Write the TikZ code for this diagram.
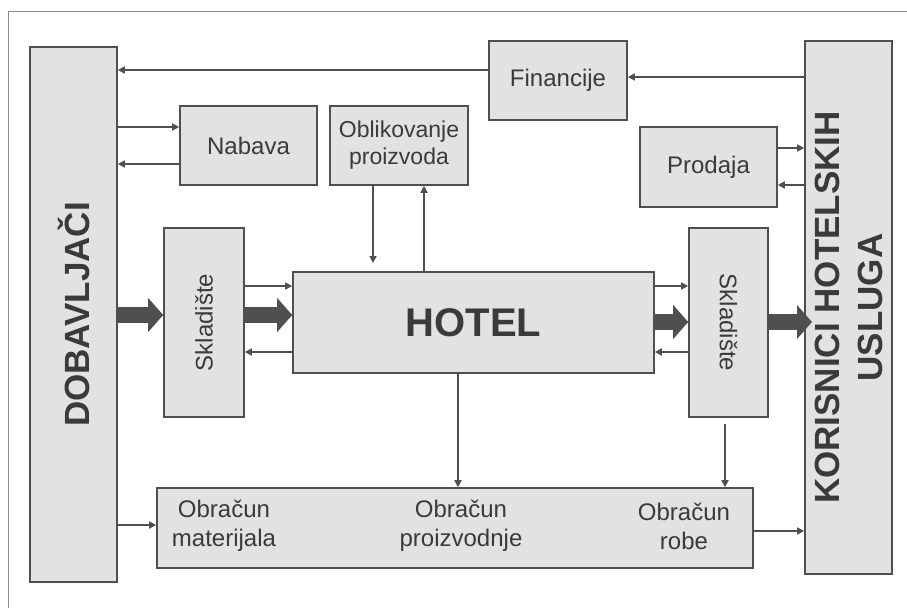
\documentclass[tikz,border=0pt]{standalone}
\usepackage{fontspec}
\setmainfont{Liberation Sans}
\usetikzlibrary{arrows.meta}
\definecolor{boxfill}{HTML}{E2E2E2}
\definecolor{edge}{HTML}{4F4F4F}
\definecolor{ink}{HTML}{3A3A3A}
\definecolor{frame}{HTML}{8A8A8A}
\begin{document}
\begin{tikzpicture}[x=1pt,y=-1pt,
  box/.style={draw=edge,line width=1.6pt,fill=boxfill,inner sep=0pt},
  lbl/.style={text=ink,font=\fontsize{24}{29}\selectfont,align=center},
  big/.style={text=ink,font=\fontsize{35}{43}\selectfont\bfseries,align=center},
  arr/.style={draw=edge,line width=1.6pt,-{Triangle[length=7pt,width=7pt]}},
  fat/.style={draw=edge,line width=16pt,-{Triangle[length=15pt,width=34pt,line width=0pt]}}]
\useasboundingbox (0,0) rectangle (907,608);
\draw[frame,line width=1pt] (907,11) -- (8,11) -- (8,608);

% boxes
\node[box,minimum width=87pt,minimum height=535pt] (dob) at (73.5,314.5) {};
\node[box,minimum width=87pt,minimum height=533pt] (kor) at (848.5,307.5) {};
\node[box,minimum width=138pt,minimum height=79pt] (fin) at (558,80.5) {};
\node[box,minimum width=137pt,minimum height=79pt] (nab) at (248.5,145.5) {};
\node[box,minimum width=138pt,minimum height=79pt] (obl) at (399,145.5) {};
\node[box,minimum width=137pt,minimum height=80pt] (pro) at (708.5,167) {};
\node[box,minimum width=80pt,minimum height=189pt] (sk1) at (204,322.5) {};
\node[box,minimum width=361pt,minimum height=101pt] (hot) at (473.5,322.5) {};
\node[box,minimum width=79pt,minimum height=189pt] (sk2) at (728.5,322.5) {};
\node[box,minimum width=596pt,minimum height=80pt] (obr) at (455,528) {};

% labels
\node[big,rotate=90] (dobt) at (dob) {DOBAVLJAČI};
\node[big,rotate=90] (kort) at (kor) {KORISNICI HOTELSKIH\\USLUGA};
\node[lbl] (fint) at (fin) {Financije};
\node[lbl] (nabt) at (nab) {Nabava};
\node[lbl,font=\fontsize{23}{27}\selectfont] (oblt) at (obl) {Oblikovanje\\proizvoda};
\node[lbl] (prot) at (pro) {Prodaja};
\node[lbl,rotate=90] (sk1t) at (sk1) {Skladište};
\node[lbl,rotate=-90] (sk2t) at (sk2) {Skladište};
\node[text=ink,font=\fontsize{40}{48}\selectfont\bfseries] (hott) at (hot) {HOTEL};
\node[lbl] (o1) at (224,526) {Obračun\\materijala};
\node[lbl] (o2) at (461,526) {Obračun\\proizvodnje};
\node[lbl] (o3) at (684,526) {Obračun\\robe};

% free ends
\coordinate (oblDownEnd) at (373,263);
\coordinate (sk2Gap) at (725,424);
\coordinate (korIn) at (812,322);

% thin connectors
\draw[arr] (fin.west |- 0,70) -- (dob.east |- 0,70);
\draw[arr] (kor.west |- 0,77) -- (fin.east |- 0,77);
\draw[arr] (dob.east |- 0,127) -- (nab.west |- 0,127);
\draw[arr] (nab.west |- 0,164) -- (dob.east |- 0,164);
\draw[arr] (obl.south -| oblDownEnd) -- (oblDownEnd);
\draw[arr] (hot.north -| 424,0) -- (obl.south -| 424,0);
\draw[arr] (pro.east |- 0,148) -- (kor.west |- 0,148);
\draw[arr] (kor.west |- 0,185) -- (pro.east |- 0,185);
\draw[arr] (sk1.east |- 0,286) -- (hot.west |- 0,286);
\draw[arr] (hot.west |- 0,352) -- (sk1.east |- 0,352);
\draw[arr] (hot.east |- 0,286) -- (sk2.west |- 0,286);
\draw[arr] (sk2.west |- 0,352) -- (hot.east |- 0,352);
\draw[arr] (hot.south -| 458,0) -- (obr.north -| 458,0);
\draw[arr] (sk2Gap) -- (obr.north -| sk2Gap);
\draw[arr] (dob.east |- 0,525) -- (obr.west |- 0,525);
\draw[arr] (obr.east |- 0,531) -- (kor.west |- 0,531);

% thick flow arrows
\draw[fat] (dob.east |- 0,315) -- (sk1.west |- 0,315);
\draw[fat] (sk1.east |- 0,315) -- (hot.west |- 0,315);
\draw[fat] (hot.east |- 0,322) -- (sk2.west |- 0,322);
\draw[fat] (sk2.east |- 0,322) -- (korIn);
\end{tikzpicture}
\end{document}
